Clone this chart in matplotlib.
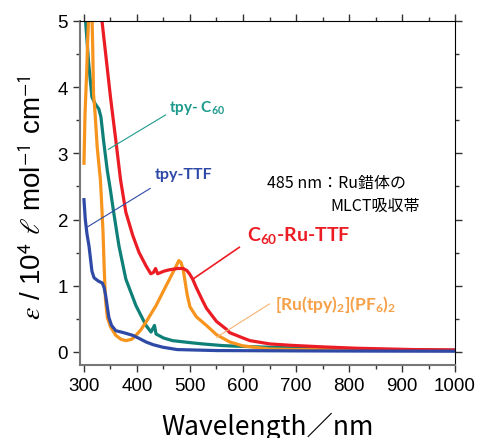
import numpy as np
import matplotlib
matplotlib.use('Agg')
import matplotlib.pyplot as plt
from matplotlib.ticker import MultipleLocator

# spectra (wavelength nm, epsilon / 10^4)
red_x = [326, 334, 350, 360, 369, 379, 392, 404, 417, 426, 431, 435, 439, 451, 461, 476,
         487, 494, 499, 505, 512, 524, 531, 550, 569, 575, 600, 613, 651, 689, 752, 815,
         870, 922, 1000]
red_y = [5.6, 5.0, 3.85, 3.2, 2.6, 2.11, 1.76, 1.5, 1.30, 1.18, 1.2, 1.26, 1.18, 1.22, 1.24,
         1.26, 1.26, 1.23, 1.18, 1.1, 0.97, 0.77, 0.66, 0.46, 0.34, 0.29, 0.21, 0.17, 0.12,
         0.1, 0.075, 0.055, 0.045, 0.035, 0.03]

orange_x = [300, 302, 305, 307, 309, 312, 315, 316.5, 318, 321, 325, 331, 333, 336, 338,
            340.5, 344, 350, 360, 370, 379, 390, 398, 407, 417, 436, 455, 471, 479, 483,
            487, 491, 495, 500, 512, 531, 550, 575, 600, 650, 700, 800, 900, 1000]
orange_y = [2.85, 3.6, 4.2, 4.7, 5.1, 5.35, 5.1, 4.6, 3.9, 3.6, 3.09, 2.6, 2.3, 1.8, 1.3,
            0.8, 0.52, 0.38, 0.25, 0.19, 0.17, 0.19, 0.25, 0.33, 0.45, 0.70, 1.0, 1.25, 1.38, 1.35,
            1.25, 1.05, 0.85, 0.68, 0.53, 0.40, 0.26, 0.15, 0.09, 0.045, 0.035, 0.03, 0.025, 0.02]

teal_x = [299, 303, 309, 315, 321, 328, 332, 337, 344, 350, 356, 366, 379, 398, 417,
          426.5, 433, 436, 450, 467, 500, 524, 562, 588, 650, 714, 800, 900, 1000]
teal_y = [5.4, 5.0, 4.35, 3.85, 3.75, 3.67, 3.55, 3.19, 2.74, 2.44, 2.11, 1.6, 1.1, 0.7, 0.4,
          0.3, 0.4, 0.27, 0.21, 0.17, 0.14, 0.12, 0.095, 0.086, 0.07, 0.055, 0.04, 0.03, 0.025]

blue_x = [300, 302.5, 305.7, 309.5, 315, 319, 327, 334.7, 338, 341, 344, 347, 352, 360,
          375, 392, 405, 417, 430, 449, 476, 550, 700, 850, 1000]
blue_y = [2.3, 2.0, 1.78, 1.6, 1.22, 1.12, 1.07, 1.04, 0.97, 0.85, 0.68, 0.52, 0.4, 0.32,
          0.29, 0.25, 0.2, 0.15, 0.11, 0.07, 0.035, 0.02, 0.015, 0.012, 0.01]

c_red = '#ec1c24'
c_orange = '#f7941d'
c_teal = '#0e8077'
c_blue = '#2e4aa6'

plt.rcParams['mathtext.fontset'] = 'custom'
plt.rcParams['mathtext.rm'] = 'Lato:bold'
plt.rcParams['mathtext.it'] = 'Lato:bold'
plt.rcParams['mathtext.bf'] = 'Lato:bold'

fig = plt.figure(figsize=(4.79, 4.39), dpi=100)
ax = fig.add_axes([0.167, 0.166, 0.783, 0.784])

ax.plot(teal_x, teal_y, color=c_teal, lw=2.3)
ax.plot(orange_x, orange_y, color=c_orange, lw=2.3)
ax.plot(red_x, red_y, color=c_red, lw=2.3)
ax.plot(blue_x, blue_y, color=c_blue, lw=2.3)

ax.set_xlim(292.5, 1000)
ax.set_ylim(-0.2, 5)
ax.xaxis.set_major_locator(MultipleLocator(100))
ax.xaxis.set_minor_locator(MultipleLocator(50))
ax.yaxis.set_major_locator(MultipleLocator(1))
ax.yaxis.set_minor_locator(MultipleLocator(0.5))
ax.tick_params(which='both', direction='out', top=True, right=True,
               labeltop=False, labelright=False, colors='#333333')
ax.tick_params(which='major', length=5, width=1)
ax.tick_params(which='minor', length=3, width=1)
for lab in ax.get_xticklabels() + ax.get_yticklabels():
    lab.set_fontfamily('Liberation Sans')
    lab.set_fontsize(13.5)
    lab.set_color('black')
for s in ['left', 'bottom']:
    ax.spines[s].set_color('#777777')
    ax.spines[s].set_linewidth(1.5)
for s in ['top', 'right']:
    ax.spines[s].set_color('black')

ax.set_xlabel('Wavelength／nm', family='Noto Sans CJK JP', fontsize=19)
ax.xaxis.set_label_coords(0.5, -0.175)
ax.xaxis.label.set_va('center')
ax.set_ylabel(r'$\varepsilon$ / 10$^{\mathsf{4}}$ $\ell$ mol$^{\mathsf{-1}}$ cm$^{\mathsf{-1}}$',
              family='Liberation Sans', fontsize=20, math_fontfamily='stix')
ax.yaxis.set_label_coords(-0.125, 0.49)
ax.yaxis.label.set_va('center')

# labels with leader lines
ax.text(461, 3.70, r'tpy- C$_{60}$', color='#1c9a8c', fontsize=11, family='Lato',
        weight='bold', va='center', math_fontfamily='custom')
ax.plot([454, 346], [3.58, 3.06], color='#1c9a8c', lw=0.8)

ax.text(433, 2.69, 'tpy-TTF', color=c_blue, fontsize=11.5, family='Lato',
        weight='bold', va='center')
ax.plot([425, 307], [2.47, 1.89], color=c_blue, lw=0.8)

ax.text(607, 1.78, r'C$_{60}$-Ru-TTF', color=c_red, fontsize=14, family='Lato',
        weight='bold', va='center', math_fontfamily='custom')
ax.plot([593, 505.5], [1.58, 1.10], color=c_red, lw=1.2)

ax.text(660.5, 0.725, r'[Ru(tpy)$_2$](PF$_6$)$_2$', color='#f6a049', fontsize=12.5,
        family='Lato', weight='bold', va='center', math_fontfamily='custom')
ax.plot([650, 550], [0.725, 0.22], color='#f8b272', lw=0.8)

ax.text(645, 2.56, '485 nm：Ru錯体の', family=['Noto Sans CJK JP', 'DejaVu Sans'],
        fontsize=11.5, va='center')
ax.text(765, 2.21, 'MLCT吸収帯', family=['Noto Sans CJK JP', 'DejaVu Sans'],
        fontsize=11.5, va='center')

fig.savefig('out.png', dpi=100)
